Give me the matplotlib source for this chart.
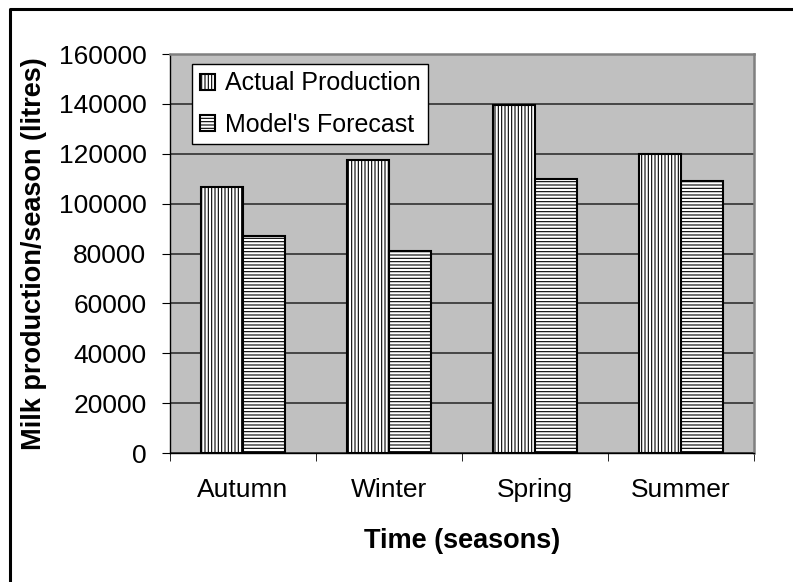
import matplotlib

matplotlib.use("Agg")
import matplotlib.pyplot as plt
import numpy as np
from matplotlib.lines import Line2D

plt.rcParams["font.family"] = ["Liberation Sans", "DejaVu Sans"]
plt.rcParams["hatch.color"] = "#8a8a8a"
plt.rcParams["hatch.linewidth"] = 0.8

seasons = ["Autumn", "Winter", "Spring", "Summer"]
actual_production = [106500, 117500, 139500, 120000]
model_forecast = [87000, 81000, 110000, 109000]
y_ticks = [0, 20000, 40000, 60000, 80000, 100000, 120000, 140000, 160000]


def main() -> None:
    fig = plt.figure(figsize=(7.93, 5.82), dpi=100)
    # outer frame: only the left and top edges are visible in the original
    fig.lines.append(Line2D([0.0125, 0.0125, 1.0], [0.0, 0.9845, 0.9845],
                            transform=fig.transFigure, color="black",
                            linewidth=2.2))

    ax = fig.add_axes([0.2144, 0.2216, 0.7364, 0.6856])
    ax.set_facecolor("#c0c0c0")

    x = np.arange(len(seasons))
    width = 0.29
    ax.bar(x - width / 2, actual_production, width=width, facecolor="white",
           edgecolor="black", linewidth=1.5, hatch="|||||",
           label="Actual Production", zorder=3)
    ax.bar(x + width / 2, model_forecast, width=width, facecolor="white",
           edgecolor="black", linewidth=1.5, hatch="-----",
           label="Model's Forecast", zorder=3)

    ax.set_xlim(-0.5, len(seasons) - 0.5)
    ax.set_ylim(0, 160000)
    ax.set_yticks(y_ticks)
    ax.set_yticklabels([str(v) for v in y_ticks], fontsize=19)
    ax.set_xticks(x)
    ax.set_xticklabels(seasons, fontsize=19)
    ax.set_xticks(np.arange(len(seasons) + 1) - 0.5, minor=True)
    ax.tick_params(axis="x", which="major", length=0, pad=18)
    ax.tick_params(axis="x", which="minor", length=6, direction="out")
    ax.tick_params(axis="y", length=6, direction="out", pad=11)
    ax.grid(axis="y", color="#303030", linewidth=1.2, zorder=1)
    ax.set_axisbelow(True)

    for side in ["top", "right"]:
        ax.spines[side].set_color("#808080")
        ax.spines[side].set_linewidth(1.8)
    for side in ["left", "bottom"]:
        ax.spines[side].set_color("black")
        ax.spines[side].set_linewidth(1.0)

    ax.set_xlabel("Time (seasons)", fontsize=19.5, fontweight="bold",
                  labelpad=19)
    ax.set_ylabel("Milk production/season (litres)", fontsize=19.5,
                  fontweight="bold", labelpad=8)

    legend = ax.legend(loc="upper left", bbox_to_anchor=(0.038, 0.975),
                       fontsize=18, frameon=True, fancybox=False,
                       edgecolor="black", handlelength=0.6, handleheight=0.6,
                       handletextpad=0.4, borderpad=0.3, labelspacing=0.7,
                       borderaxespad=0.0)
    legend.get_frame().set_linewidth(1.0)
    legend.get_frame().set_facecolor("white")
    legend.get_frame().set_alpha(1.0)

    fig.savefig("out.png", dpi=100)
    plt.close(fig)


if __name__ == "__main__":
    main()
